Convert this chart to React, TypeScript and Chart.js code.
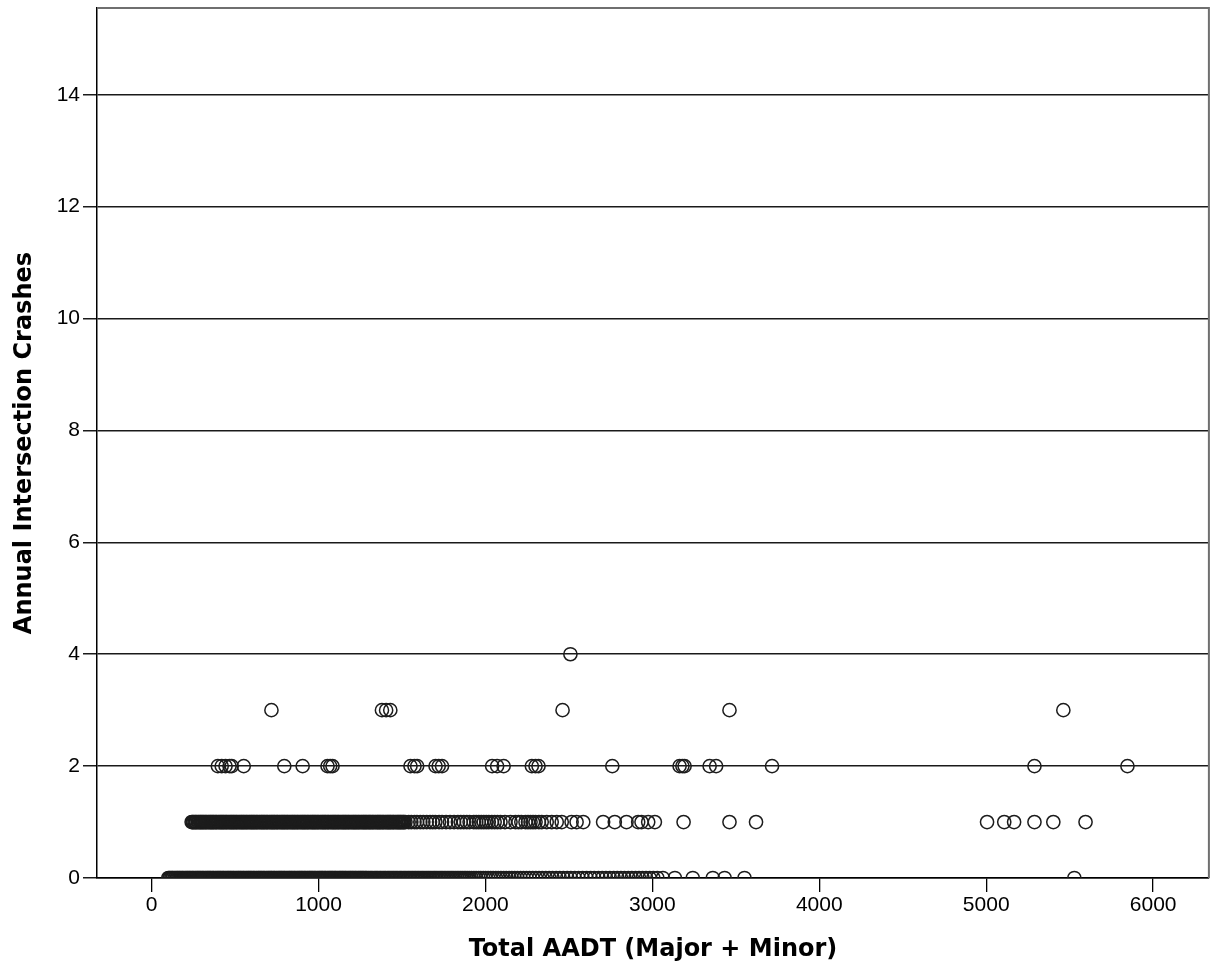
import { useEffect, useRef } from 'react';
import { Chart, registerables } from 'chart.js';

Chart.register(...registerables);

// AADT values of intersections, grouped by annual crash count
const aadtCrash0 = [
  100, 106, 111, 118, 124, 129, 137, 143, 150, 155, 161, 167, 172, 179, 185, 190, 198, 204, 211, 216,
  222, 228, 233, 240, 246, 251, 259, 265, 272, 277, 283, 289, 294, 301, 307, 312, 320, 326, 333, 338,
  344, 350, 355, 362, 368, 373, 381, 387, 394, 399, 405, 411, 416, 423, 429, 434, 442, 448, 455, 460,
  466, 472, 477, 484, 490, 495, 503, 509, 516, 521, 527, 533, 538, 545, 551, 556, 564, 570, 577, 582,
  588, 594, 599, 606, 612, 617, 625, 631, 638, 643, 649, 655, 660, 667, 673, 678, 686, 692, 699, 704,
  710, 716, 721, 728, 734, 739, 747, 753, 760, 765, 771, 777, 782, 789, 795, 800, 808, 814, 821, 826,
  832, 838, 843, 850, 856, 861, 869, 875, 882, 887, 893, 899, 904, 911, 917, 922, 930, 936, 943, 948,
  954, 960, 965, 972, 978, 983, 991, 997, 1004, 1009, 1015, 1021, 1026, 1033, 1039, 1044, 1052, 1058, 1065, 1070,
  1076, 1082, 1087, 1094, 1100, 1105, 1113, 1119, 1126, 1131, 1137, 1143, 1148, 1155, 1161, 1166, 1174, 1180, 1187, 1192,
  1198, 1204, 1209, 1216, 1222, 1227, 1235, 1241, 1248, 1253, 1259, 1265, 1270, 1277, 1283, 1288, 1296, 1303, 1311, 1318,
  1326, 1335, 1342, 1350, 1357, 1366, 1373, 1381, 1389, 1397, 1404, 1413, 1420, 1428, 1436, 1444, 1452, 1460, 1468, 1476,
  1485, 1492, 1500, 1509, 1517, 1525, 1534, 1542, 1550, 1559, 1567, 1576, 1584, 1593, 1601, 1610, 1619, 1627, 1636, 1645,
  1654, 1662, 1671, 1680, 1690, 1698, 1707, 1716, 1726, 1735, 1744, 1754, 1763, 1773, 1782, 1792, 1801, 1811, 1821, 1831,
  1841, 1851, 1861, 1872, 1882, 1893, 1904, 1917, 1931, 1944, 1959, 1972, 1987, 2001, 2016, 2031, 2046, 2062, 2077, 2093,
  2109, 2125, 2142, 2158, 2175, 2192, 2210, 2228, 2246, 2264, 2283, 2302, 2321, 2341, 2361, 2382, 2402, 2424, 2445, 2467,
  2490, 2512, 2535, 2558, 2582, 2606, 2630, 2652, 2677, 2700, 2722, 2745, 2768, 2790, 2812, 2833, 2856, 2877, 2899, 2920,
  2941, 2962, 2984, 3006, 3030, 3063, 3135, 3242, 3362, 3433, 3552, 5528,
];

const aadtCrash1 = [
  240, 246, 251, 258, 264, 269, 277, 283, 290, 295, 301, 307, 312, 319, 325, 330, 338, 344, 351, 356,
  362, 368, 373, 380, 386, 391, 399, 405, 412, 417, 423, 429, 434, 441, 447, 452, 460, 466, 473, 478,
  484, 490, 495, 502, 508, 513, 521, 527, 534, 539, 545, 551, 556, 563, 569, 574, 582, 588, 595, 600,
  606, 612, 617, 624, 630, 635, 643, 649, 656, 661, 667, 673, 678, 685, 691, 696, 704, 710, 717, 722,
  728, 734, 739, 746, 752, 757, 765, 771, 778, 783, 789, 795, 800, 807, 813, 818, 826, 832, 839, 844,
  850, 856, 861, 868, 874, 879, 887, 893, 900, 905, 911, 917, 922, 929, 935, 940, 948, 954, 961, 966,
  972, 978, 983, 990, 996, 1001, 1009, 1015, 1022, 1027, 1033, 1039, 1044, 1051, 1057, 1062, 1070, 1076, 1083, 1088,
  1094, 1100, 1105, 1112, 1118, 1123, 1131, 1137, 1144, 1149, 1155, 1161, 1166, 1173, 1179, 1184, 1192, 1198, 1205, 1210,
  1216, 1222, 1227, 1234, 1240, 1245, 1253, 1259, 1266, 1271, 1277, 1283, 1288, 1295, 1301, 1307, 1312, 1319, 1325, 1330,
  1338, 1344, 1351, 1356, 1362, 1368, 1373, 1380, 1386, 1391, 1399, 1405, 1412, 1417, 1423, 1429, 1434, 1441, 1447, 1452,
  1460, 1466, 1473, 1478, 1484, 1490, 1495, 1502, 1508, 1513, 1521,
  1540, 1556, 1575, 1590, 1610, 1628, 1648, 1668, 1684, 1700, 1722, 1740, 1764, 1788, 1812, 1835, 1852, 1870, 1888, 1905,
  1930, 1945, 1960, 1975, 1990, 2005, 2020, 2038, 2055, 2072, 2090, 2117, 2150, 2180, 2198, 2215, 2240, 2255, 2270, 2285,
  2300, 2320, 2337, 2367, 2397, 2427, 2457, 2516, 2546, 2586, 2705, 2775, 2845, 2915, 2935, 2975, 3015, 3187, 3462, 3621,
  5005, 5108, 5167, 5289, 5402, 5595,
];

const aadtCrash2 = [
  397, 420, 443, 467, 480, 552, 795, 905, 1054, 1070, 1084, 1551, 1575, 1591, 1701, 1720, 1740,
  2040, 2070, 2109, 2278, 2300, 2318, 2760, 3163, 3180, 3193, 3343, 3382, 3717, 5289, 5846,
];

const aadtCrash3 = [718, 1380, 1405, 1430, 2462, 3462, 5462];

const aadtCrash4 = [2509];

const xTickValues = [0, 1000, 2000, 3000, 4000, 5000, 6000];
const yTickValues = [0, 2, 4, 6, 8, 10, 12, 14];

const xAxisTitle = 'Total AADT (Major + Minor)';
const yAxisTitle = 'Annual Intersection Crashes';

export default function App() {
  const canvasRef = useRef<HTMLCanvasElement>(null);

  useEffect(() => {
    if (!canvasRef.current) return;

    const groups: [number[], number][] = [
      [aadtCrash0, 0],
      [aadtCrash1, 1],
      [aadtCrash2, 2],
      [aadtCrash3, 3],
      [aadtCrash4, 4],
    ];
    const points = groups.flatMap(([xs, y]) => xs.map((x) => ({ x, y })));

    const framePlugin = {
      id: 'frame',
      afterDraw(chart: any) {
        const { ctx, chartArea } = chart;
        const { left, top, right, bottom } = chartArea;
        ctx.save();
        ctx.strokeStyle = '#6f6f6f';
        ctx.lineWidth = 2;
        ctx.beginPath();
        ctx.moveTo(left, top);
        ctx.lineTo(right, top);
        ctx.lineTo(right, bottom);
        ctx.stroke();
        ctx.restore();
      },
    };

    const tickFont = { family: '"Liberation Sans", Arial, sans-serif', size: 21 };
    const titleFont = { family: '"DejaVu Sans", sans-serif', size: 24, weight: 'bold' as const };

    const chart = new Chart(canvasRef.current, {
      type: 'scatter',
      data: {
        datasets: [
          {
            data: points,
            pointStyle: 'circle',
            pointRadius: 6.6,
            pointHoverRadius: 6.6,
            pointBorderWidth: 1.5,
            pointBorderColor: '#1c1c1c',
            pointBackgroundColor: 'rgba(0,0,0,0)',
            borderColor: '#1c1c1c',
            backgroundColor: 'rgba(0,0,0,0)',
            clip: 0,
          },
        ],
      },
      options: {
        animation: false,
        responsive: true,
        maintainAspectRatio: false,
        events: [],
        layout: { padding: { left: 0, right: 4, top: 7, bottom: 0 } },
        plugins: {
          legend: { display: false },
          tooltip: { enabled: false },
        },
        scales: {
          x: {
            type: 'linear',
            min: -327,
            max: 6334,
            afterBuildTicks: (scale: any) => {
              scale.ticks = xTickValues.map((value) => ({ value }));
            },
            afterFit: (scale: any) => {
              scale.height = 92;
              scale.paddingLeft = 0;
              scale.paddingRight = 0;
            },
            grid: {
              drawOnChartArea: false,
              drawTicks: true,
              tickLength: 14,
              color: '#000',
              lineWidth: 1.3,
            },
            border: { display: true, color: '#000', width: 1.5 },
            ticks: {
              padding: 1,
              color: '#000',
              font: tickFont,
              maxRotation: 0,
              autoSkip: false,
              callback: (v: any) => String(v),
            },
            title: {
              display: true,
              text: xAxisTitle,
              color: '#000',
              font: titleFont,
              padding: { top: 0, bottom: 6 },
            },
          },
          y: {
            type: 'linear',
            min: 0,
            max: 15.55,
            afterBuildTicks: (scale: any) => {
              scale.ticks = yTickValues.map((value) => ({ value }));
            },
            afterFit: (scale: any) => {
              scale.width = 97;
              scale.paddingTop = 0;
              scale.paddingBottom = 0;
            },
            grid: {
              drawOnChartArea: true,
              drawTicks: true,
              tickLength: 14,
              color: '#1a1a1a',
              lineWidth: 1.5,
            },
            border: { display: true, color: '#000', width: 1.5 },
            ticks: {
              padding: 3,
              color: '#000',
              font: tickFont,
              autoSkip: false,
              callback: (v: any) => String(v),
            },
            title: {
              display: true,
              text: yAxisTitle,
              color: '#000',
              font: titleFont,
              padding: { top: 10, bottom: 0 },
            },
          },
        },
      },
      plugins: [framePlugin],
    });

    return () => chart.destroy();
  }, []);

  return (
    <div style={{ position: 'absolute', left: 0, top: 0, width: 1217, height: 970 }}>
      <canvas ref={canvasRef} />
    </div>
  );
}
